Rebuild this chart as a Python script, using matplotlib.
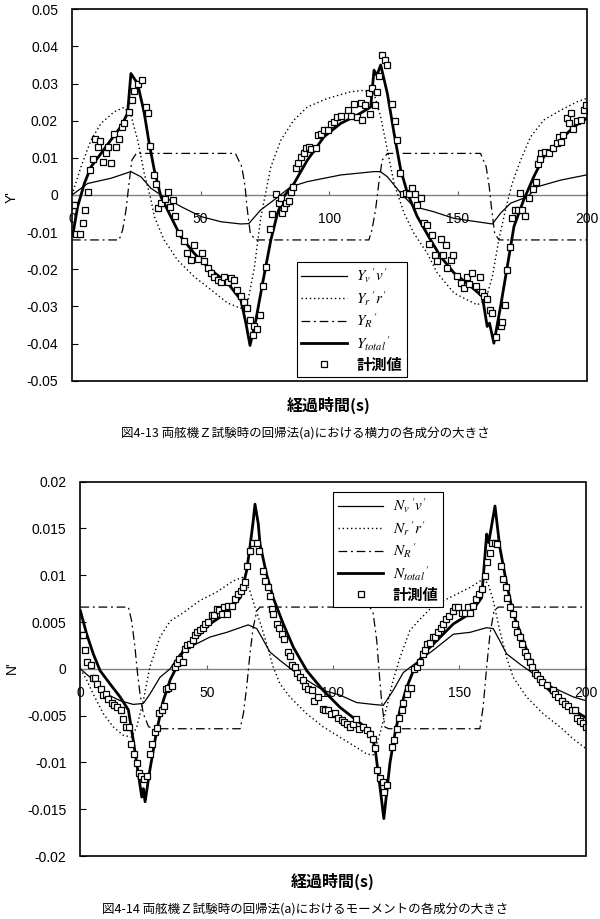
import matplotlib
matplotlib.use("Agg")
import matplotlib.pyplot as plt
from matplotlib.patches import Rectangle

plt.rcParams['font.family'] = ['Liberation Sans', 'Noto Sans CJK JP']
plt.rcParams['mathtext.fontset'] = 'stix'

# ---------------- Top chart (Y') ----------------
yv_t = [0, 6.1, 15.1, 22.9, 26.8, 30.7, 34.6, 42.3, 50.1, 57.9, 65.6, 68.7, 73.4, 78.6, 85, 91.5, 104.5, 117.4, 119.9,
        122.6, 127.8, 132.8, 140.6, 148.5, 163.4, 166.6, 170.5, 177, 180.8, 189.9, 200]
yv_v = [0, 0.0031, 0.0045, 0.0063, 0.0049, 0.0018, 0, -0.0031, -0.0058, -0.0072, -0.0078, -0.0077, -0.004, -0.0013, 0.0022,
        0.0036, 0.0054, 0.0063, 0.0063, 0.0049, 0.0005, -0.0031, -0.0045, -0.0063, -0.0078, -0.0049, -0.0022, -0.0005,
        0.0022, 0.004, 0.0054]

yr_t = [0, 3.5, 7.4, 11.3, 16.4, 20.3, 22.9, 25.5, 28.1, 30.7, 32, 35.8, 41, 47.5, 54, 60.5, 65.6, 68.2, 70.8, 73.4,
        77.3, 81.2, 86.3, 91.5, 99.3, 108.3, 113.5, 117.4, 120, 122.6, 125.2, 129.1, 132.9, 138.1, 142, 148.5, 157.5,
        160.8, 163.4, 165.9, 168.5, 171.1, 174.4, 178.3, 183.4, 189.9, 196.4, 200]
yr_v = [0, 0.0076, 0.0148, 0.0193, 0.0224, 0.0236, 0.0215, 0.0148, 0.0058, -0.0013, -0.0058, -0.0121, -0.0175, -0.022,
        -0.0255, -0.0291, -0.0305, -0.0291, -0.020, -0.006, 0.0076, 0.0148, 0.0202, 0.0237, 0.026, 0.0278,
        0.0282, 0.0273, 0.021, 0.0121, 0.0031, -0.0049, -0.0103, -0.0157, -0.021, -0.0264, -0.0296, -0.0282, -0.022,
        -0.0121, -0.004, 0.0031, 0.0094, 0.0157, 0.0202, 0.0228, 0.0251, 0.026]

yR_t = [0, 18.3, 19.7, 21, 22.3, 23.3, 25, 63.5, 66, 67.3, 68, 69.3, 71.3, 115.4, 116.6, 118, 119.4, 120.6, 122.6,
        158.8, 161, 162.2, 163, 164.3, 166, 200]
yR_v = [-0.0121, -0.0121, -0.0094, -0.004, 0.004, 0.0094, 0.0112, 0.0112, 0.0076, 0.0022, -0.0031, -0.0103, -0.0121,
        -0.0121, -0.0094, -0.004, 0.004, 0.0094, 0.0112, 0.0112, 0.0076, 0.0022, -0.0031, -0.0103, -0.0121, -0.0121]

ytot_t = [0.3, 2.2, 4.8, 7.4, 11.3, 15.1, 19, 21.6, 22.9, 25.5, 28.1, 30, 32, 34.6, 38.4, 42.3, 47.5, 54, 60.5, 65.6,
          67.6, 69.2, 71.5, 74.1, 77.3, 79.9, 82.4, 86.3, 91.5, 98, 104.5, 110.9, 116.1, 117.4, 118.5, 120, 122.6,
          125.2, 127.8, 130.4, 134.2, 139.4, 143.3, 148.5, 155, 159.5, 161.4, 162.3, 164, 166.6, 169.2, 171.8, 175.6,
          179.5, 183.4, 189.9, 195.1, 200]
ytot_v = [-0.0108, -0.0031, 0.0031, 0.0076, 0.0112, 0.0148, 0.0184, 0.022, 0.0327, 0.030, 0.022, 0.0139, 0.0067,
          -0.0005, -0.0058, -0.0112, -0.0157, -0.0202, -0.0237, -0.0282, -0.0345, -0.0405, -0.0336, -0.0237, -0.0121,
          -0.0049, -0.0004, 0.0031, 0.0094, 0.0157, 0.0193, 0.0215, 0.0237, 0.0336, 0.0322, 0.035, 0.0273, 0.0166,
          0.0067, 0.0005, -0.0058, -0.0121, -0.0166, -0.021, -0.0246, -0.0273, -0.0354, -0.0345, -0.0399, -0.030,
          -0.0193, -0.0085, -0.0013, 0.0049, 0.0103, 0.0148, 0.0184, 0.0206]

ym_t = [0.3, 0.9, 1.5, 3.2, 4.1, 5.0, 6.1, 7.1, 8.0, 9.1, 10.0, 11.0, 11.9, 13.2, 13.9, 15.1, 16.2, 17.1, 18.4, 19.3,
        20.3, 22.3, 23.2, 24.2, 25.8, 27.1, 28.7, 29.6, 30.4, 31.7, 32.6, 33.5, 34.6, 36.1, 37.2, 38.2, 39.1, 40.0,
        41.7, 43.4, 44.7, 46.2, 47.3, 49.1, 50.4, 51.4, 52.7, 54.0, 55.3, 56.6, 57.9, 59.1, 60.5, 61.7, 63.0, 64.1,
        65.6, 66.7, 68.0, 69.2, 70.2, 70.8, 72.1, 73.1, 74.4, 75.3, 77.0, 77.9, 79.2, 80.5, 81.2, 81.8, 82.4, 83.1,
        84.4, 85.0, 86.1, 87.0, 87.9, 88.9, 90.0, 90.9, 92.2, 93.1, 94.8, 95.7, 96.7, 98.0, 99.6, 100.6, 101.9,
        102.9, 104.5, 107.1, 108.3, 109.6, 110.9, 112.2, 112.9, 113.8, 115.5, 115.8, 116.8, 117.8, 118.7, 119.3,
        120.6, 121.6, 122.6, 124.5, 125.4, 126.5, 127.5, 128.8, 129.7, 131.0, 132.3, 133.2, 134.2, 135.5, 136.8,
        138.1, 138.8, 140.1, 141.0, 142.0, 143.3, 144.3, 145.2, 145.9, 147.2, 148.1, 149.5, 151.1, 152.4, 153.7,
        154.3, 155.6, 156.9, 158.6, 159.5, 160.1, 161.5, 162.5, 163.1, 165.0, 166.6, 167.3, 168.2, 169.0, 170.2,
        171.1, 172.4, 173.3, 174.1, 175.0, 176.0, 177.6, 179.3, 180.2, 181.1, 181.9, 182.4, 183.7, 185.4, 187.1,
        188.6, 189.2, 189.9, 190.9, 192.5, 193.1, 194.0, 194.8, 196.4, 197.9, 199.0, 199.9]
ym_v = [-0.0027, -0.0027, -0.0105, -0.0105, -0.0076, -0.004, 0.0009, 0.0067, 0.0096, 0.0152, 0.0128, 0.0146, 0.009,
        0.0114, 0.013, 0.0087, 0.0164, 0.0128, 0.015, 0.0184, 0.0193, 0.0224, 0.0255, 0.028, 0.030, 0.0309, 0.0237,
        0.0221, 0.0132, 0.0054, 0.003, -0.0036, -0.0021, -0.0012, 0.0009, -0.0031, -0.0013, -0.0056, -0.0103,
        -0.0124, -0.0155, -0.0175, -0.0134, -0.0173, -0.0155, -0.0179, -0.0197, -0.021, -0.022, -0.0228, -0.0233,
        -0.022, -0.0233, -0.0224, -0.0228, -0.0255, -0.0273, -0.0287, -0.0305, -0.0336, -0.0376, -0.0354, -0.0361,
        -0.0323, -0.0245, -0.0193, -0.0092, -0.0051, 0.0003, -0.0022, -0.0009, -0.0049, -0.0036, -0.0022, -0.0015,
        0.0009, 0.0022, 0.0072, 0.0087, 0.0101, 0.0112, 0.0126, 0.013, 0.0124, 0.0126, 0.0161, 0.0163, 0.0175,
        0.0175, 0.0191, 0.0197, 0.0209, 0.0212, 0.0228, 0.0212, 0.0246, 0.021, 0.0248, 0.0203, 0.0242, 0.0275,
        0.0218, 0.0287, 0.0242, 0.0278, 0.032, 0.0376, 0.0363, 0.035, 0.0245, 0.020, 0.0148, 0.006, 0.0003, 0.0006,
        0.0003, 0.0018, 0.0003, -0.0027, -0.0009, -0.0076, -0.0081, -0.0132, -0.0108, -0.0161, -0.0179, -0.0119,
        -0.0161, -0.0134, -0.0197, -0.0175, -0.0161, -0.0218, -0.0236, -0.0251, -0.0221, -0.0239, -0.021, -0.0246,
        -0.0221, -0.026, -0.0273, -0.028, -0.0309, -0.0318, -0.0381, -0.0354, -0.0341, -0.0296, -0.0203, -0.0139,
        -0.0063, -0.004, -0.004, 0.0006, -0.004, -0.0056, -0.0009, 0.0015, 0.0036, 0.0083, 0.0096, 0.0112, 0.0116,
        0.0112, 0.0126, 0.0139, 0.0155, 0.0143, 0.0161, 0.0206, 0.0193, 0.022, 0.0179, 0.020, 0.0202, 0.0228,
        0.0242]

# ---------------- Bottom chart (N') ----------------
nv_t = [0, 5.1, 10.4, 15.7, 20.9, 24.9, 27.5, 31.5, 35.5, 39.4, 44.7, 51.3, 57.9, 63.2, 66.4, 69.8, 71.1, 75, 79,
        84.3, 89.6, 96.1, 102.7, 109.3, 115.9, 119.9, 123.8, 127.8, 133.1, 139.7, 147.6, 154.2, 160.8, 163.4, 166,
        168.7, 174, 179.2, 187.1, 195.1, 200]
nv_v = [0, -0.0012, -0.0027, -0.0034, -0.0038, -0.0037, -0.0027, -0.0009, 0, 0.0016, 0.0025, 0.0034, 0.0039, 0.0044,
        0.0047, 0.0043, 0.0037, 0.0018, 0.0009, -0.0002, -0.0012, -0.0023, -0.0028, -0.0036, -0.0038, -0.0039,
        -0.0023, -0.0004, 0.0007, 0.002, 0.0037, 0.0039, 0.0044, 0.0043, 0.003, 0.0016, 0.0005, -0.0005, -0.002,
        -0.003, -0.0034]

nr_t = [0, 2.5, 5.1, 9.1, 13, 17, 20.3, 22.3, 24.9, 27.5, 31.5, 35.5, 40.7, 47.3, 53.9, 60.5, 64.5, 67.1, 69.1, 71.1,
        73.7, 76.3, 79, 82.9, 89.6, 96.1, 102.7, 109.3, 113.3, 115.9, 118.6, 121.2, 123.8, 126.5, 130.4, 134.4,
        138.4, 142.3, 147.6, 154.2, 159.4, 161.4, 163.4, 166, 168.7, 171.3, 176.6, 183.2, 189.8, 195.1, 200]
nr_v = [0, -0.0012, -0.0027, -0.0048, -0.0062, -0.0071, -0.0073, -0.0062, -0.0034, 0.0002, 0.0034, 0.0051, 0.006,
        0.0073, 0.0082, 0.0094, 0.0098, 0.0083, 0.0066, 0.0050, 0.0027, 0.0002, -0.0016, -0.003, -0.0048, -0.0062,
        -0.0073, -0.0084, -0.0091, -0.0092, -0.0069, -0.0041, -0.0012, 0.0012, 0.0041, 0.0053, 0.0064, 0.0071,
        0.0078, 0.0087, 0.0096, 0.0091, 0.0073, 0.0041, 0.0012, -0.0009, -0.003, -0.0048, -0.0062, -0.0075, -0.0085]

nR_t = [0, 19, 20.3, 21.6, 22.5, 23.6, 24.9, 27, 30, 63.2, 64.5, 65.8, 67.1, 68.4, 69.8, 71.1, 114.6, 115.9, 117.3,
        118.3, 119.2, 120.5, 122, 158.1, 159.4, 160.8, 162.1, 163.7, 165.4, 200]
nR_v = [0.0066, 0.0066, 0.0051, 0.0023, -0.0002, -0.0027, -0.0048, -0.0062, -0.0064, -0.0064, -0.0048, -0.002,
        0.0016, 0.0044, 0.0062, 0.0066, 0.0066, 0.0059, 0.003, -0.0005, -0.0034, -0.0062, -0.0064, -0.0064, -0.0041,
        0.0002, 0.0037, 0.0062, 0.0066, 0.0066]

ntot_t = [0, 2.5, 5.1, 7.8, 11.7, 15.7, 19, 20.9, 22.9, 24.3, 24.9, 25.6, 27.5, 30.2, 32.8, 35.5, 38.1, 40.7, 44.7,
          51.3, 57.9, 63.2, 65.8, 67.1, 68.4, 69.1, 70.4, 71.1, 73.7, 76.3, 80.3, 84.3, 89.6, 96.1, 102.7, 109.3,
          114.6, 116.6, 117.9, 119.2, 120.1, 121.2, 122.5, 124.5, 126.5, 129.1, 131.8, 135.7, 141, 147.6, 154.2,
          158.8, 160.8, 161.6, 164.1, 166, 168.7, 171.3, 175.3, 179.2, 184.5, 189.8, 195.1, 200]
ntot_v = [0.0062, 0.0037, 0.0016, -0.0002, -0.0016, -0.003, -0.0044, -0.0076, -0.0112, -0.0137, -0.0128, -0.0142,
          -0.0108, -0.0066, -0.0034, -0.0012, 0.0002, 0.002, 0.003, 0.0048, 0.006, 0.0076, 0.0105, 0.013, 0.0158,
          0.0176, 0.0155, 0.0133, 0.0101, 0.0076, 0.0048, 0.0023, -0.0002, -0.0023, -0.0041, -0.0055, -0.0066,
          -0.0084, -0.0112, -0.014, -0.016, -0.0133, -0.0101, -0.0069, -0.0044, -0.002, -0.0002, 0.0016, 0.003,
          0.0048, 0.0059, 0.0076, 0.0144, 0.0135, 0.0174, 0.013, 0.0091, 0.0059, 0.003, 0.0002, -0.002, -0.0034,
          -0.0044, -0.0052]

nm_t = [0.1, 0.9, 1.8, 2.7, 4.1, 4.9, 5.9, 6.7, 8.0, 9.1, 10.1, 11.0, 12.4, 13.3, 14.6, 16.1, 17.0, 18.0, 19.1, 20.2,
        21.2, 22.3, 23.3, 23.9, 25.2, 26.2, 27.5, 28.2, 29.5, 30.2, 31.2, 32.2, 33.1, 33.9, 34.8, 36.1, 37.4, 38.3,
        39.1, 40.5, 41.4, 42.3, 43.4, 44.4, 45.4, 46.3, 47.3, 48.4, 49.4, 50.6, 52.0, 52.9, 53.9, 55.0, 55.9, 56.8,
        57.9, 58.5, 59.9, 61.2, 62.5, 63.4, 64.2, 65.1, 66.0, 67.1, 68.4, 70.0, 70.8, 72.1, 73.1, 74.4, 75.0, 75.7,
        76.3, 77.7, 78.7, 79.7, 80.6, 82.3, 83.0, 83.6, 84.9, 85.8, 86.9, 88.0, 88.9, 90.2, 91.5, 92.4, 94.1, 95.9,
        96.8, 98.1, 99.0, 100.8, 102.1, 103.4, 104.3, 105.6, 106.7, 108.0, 109.1, 110.4, 111.7, 113.5, 114.6, 115.7,
        116.6, 117.3, 118.6, 119.6, 120.1, 121.2, 123.2, 124.1, 125.2, 126.2, 127.1, 127.8, 129.1, 129.8, 130.7,
        132.0, 133.1, 134.4, 135.5, 136.4, 137.3, 138.4, 139.7, 140.3, 141.6, 142.6, 143.6, 144.7, 146.0, 147.3,
        148.2, 149.5, 150.9, 152.2, 153.5, 154.2, 155.5, 156.6, 157.9, 158.8, 160.1, 161.0, 162.1, 162.8, 164.1,
        165.0, 166.3, 167.4, 168.4, 169.0, 170.0, 171.3, 172.0, 172.9, 174.0, 174.6, 175.9, 176.6, 177.9, 178.6,
        179.9, 180.8, 181.9, 182.9, 184.5, 186.9, 187.8, 189.1, 190.5, 191.8, 193.1, 194.4, 195.7, 196.6, 197.7,
        199.0, 200.0]
nm_v = [0.0036, 0.0036, 0.002, 0.0007, 0.0004, -0.001, -0.001, -0.0016, -0.0022, -0.0028, -0.0027, -0.0032, -0.0036,
        -0.0039, -0.0041, -0.0044, -0.0054, -0.0062, -0.0062, -0.008, -0.0091, -0.0101, -0.0111, -0.0115, -0.0118,
        -0.0114, -0.0091, -0.008, -0.0068, -0.0063, -0.0047, -0.0044, -0.004, -0.0022, -0.002, -0.0018, 0.0002,
        0.0006, 0.001, 0.0007, 0.0021, 0.0025, 0.0027, 0.0031, 0.0036, 0.0039, 0.0042, 0.0044, 0.0048, 0.005, 0.0058,
        0.0058, 0.0064, 0.0063, 0.0059, 0.0066, 0.0059, 0.0067, 0.0067, 0.0075, 0.008, 0.0083, 0.0088, 0.0093, 0.011,
        0.0126, 0.0135, 0.0135, 0.0126, 0.0105, 0.0094, 0.0087, 0.0078, 0.0064, 0.0059, 0.0048, 0.0044, 0.0037,
        0.0032, 0.0018, 0.0014, 0.0004, 0.0002, -0.0004, -0.0009, -0.0012, -0.0018, -0.0021, -0.0023, -0.0034,
        -0.003, -0.0043, -0.0044, -0.0044, -0.0048, -0.0047, -0.0052, -0.0055, -0.0057, -0.0059, -0.0062, -0.0059,
        -0.0054, -0.0064, -0.0062, -0.0065, -0.007, -0.0075, -0.0085, -0.0108, -0.0117, -0.0121, -0.0132, -0.0124,
        -0.0084, -0.0076, -0.0064, -0.0052, -0.0044, -0.0036, -0.0027, -0.002, -0.002, 0, 0.0002, 0.0007, 0.0016,
        0.002, 0.0027, 0.0028, 0.0034, 0.0034, 0.0039, 0.0044, 0.0048, 0.0053, 0.0057, 0.0062, 0.0066, 0.0066, 0.006,
        0.006, 0.0066, 0.006, 0.0067, 0.0075, 0.008, 0.0085, 0.0099, 0.0114, 0.0124, 0.0135, 0.0135, 0.0133, 0.011,
        0.0096, 0.0088, 0.0076, 0.0066, 0.0059, 0.0048, 0.0039, 0.0034, 0.0027, 0.0018, 0.0014, 0.0007, 0.0002,
        -0.0004, -0.0007, -0.0011, -0.0014, -0.0017, -0.0023, -0.0027, -0.003, -0.0034, -0.0038, -0.004, -0.0044,
        -0.0044, -0.0052, -0.0056, -0.0058, -0.0062]

x_ticks = [0, 50, 100, 150, 200]
top_yticks = [0.05, 0.04, 0.03, 0.02, 0.01, 0, -0.01, -0.02, -0.03, -0.04, -0.05]
top_yticklabels = ['0.05', '0.04', '0.03', '0.02', '0.01', '0', '-0.01', '-0.02', '-0.03', '-0.04', '-0.05']
bot_yticks = [0.02, 0.015, 0.01, 0.005, 0, -0.005, -0.01, -0.015, -0.02]
bot_yticklabels = ['0.02', '0.015', '0.01', '0.005', '0', '-0.005', '-0.01', '-0.015', '-0.02']

top_labels = [r"$Y_v\,'v'$", r"$Y_r\,'r'$", r"$Y_R\,'$", r"$Y_{total}\,'$", "計測値"]
bot_labels = [r"$N_v\,'v'$", r"$N_r\,'r'$", r"$N_R\,'$", r"$N_{total}\,'$", "計測値"]

xlabel = "経過時間(s)"
cap_top = "図4-13 両舷機Ｚ試験時の回帰法(a)における横力の各成分の大きさ"
cap_bot = "図4-14 両舷機Ｚ試験時の回帰法(a)におけるモーメントの各成分の大きさ"

W, H = 600, 919
fig = plt.figure(figsize=(W / 100, H / 100), dpi=100)


def px_axes(l, t, r, b):
    return fig.add_axes([l / W, 1 - b / H, (r - l) / W, (b - t) / H])


def style(ax, ylim, yticks, yticklabels, labels, series, leg_anchor):
    (vt, vv), (rt, rv), (Rt, Rv), (tt, tv), (mt, mv) = series
    ax.plot(vt, vv, color='black', lw=0.9, label=labels[0], zorder=3)
    ax.plot(rt, rv, color='black', lw=1.0, linestyle=(0, (1, 2)), label=labels[1], zorder=3)
    ax.plot(Rt, Rv, color='black', lw=0.9, linestyle=(0, (7, 3, 1.5, 3)), label=labels[2], zorder=3)
    ax.plot(tt, tv, color='black', lw=2.0, label=labels[3], zorder=4)
    ax.plot(mt, mv, linestyle='none', marker='s', ms=5, mfc='white', mec='black', mew=0.9,
            label=labels[4], zorder=5)
    ax.set_xlim(0, 200)
    ax.set_ylim(*ylim)
    ax.set_yticks(yticks)
    ax.set_yticklabels(yticklabels)
    ax.set_xticks(x_ticks)
    ax.set_xticklabels([str(v) for v in x_ticks])
    for s in ['top', 'left', 'right']:
        ax.spines[s].set_visible(False)
    ax.spines['bottom'].set_position(('data', 0))
    ax.spines['bottom'].set_color('#808080')
    ax.spines['bottom'].set_linewidth(1.0)
    ax.add_patch(Rectangle((0, 0), 1, 1, transform=ax.transAxes, fill=False, ec='black', lw=1.2,
                           clip_on=False, zorder=6))
    ax.tick_params(axis='x', direction='in', length=3, width=0.8, color='#606060', pad=12, labelsize=10)
    ax.tick_params(axis='y', direction='in', length=4, width=0.8, pad=10, labelsize=10)
    leg = ax.legend(loc='upper left', bbox_to_anchor=leg_anchor, frameon=True, fancybox=False,
                    edgecolor='black', framealpha=1, fontsize=11, handlelength=3.0, labelspacing=0.25,
                    borderpad=0.3, handletextpad=0.6, borderaxespad=0)
    leg.get_frame().set_linewidth(0.8)
    t = leg.get_texts()[4]
    t.set_fontweight('bold')
    t.set_fontfamily(['Noto Sans CJK JP'])
    t.set_fontsize(11)
    return ax


ax1 = px_axes(72, 9.3, 586.5, 380.7)
style(ax1, (-0.05, 0.05), top_yticks, top_yticklabels, top_labels,
      [(yv_t, yv_v), (yr_t, yr_v), (yR_t, yR_v), (ytot_t, ytot_v), (ym_t, ym_v)], (0.437, 0.32))

ax2 = px_axes(80.4, 481.7, 585.7, 856)
style(ax2, (-0.02, 0.02), bot_yticks, bot_yticklabels, bot_labels,
      [(nv_t, nv_v), (nr_t, nr_v), (nR_t, nR_v), (ntot_t, ntot_v), (nm_t, nm_v)], (0.50, 0.973))

fig.text(12 / W, 1 - 197 / H, "Y'", rotation=90, ha='center', va='center', fontsize=10)
fig.text(12 / W, 1 - 668 / H, "N'", rotation=90, ha='center', va='center', fontsize=10)

fig.text(329 / W, 1 - 405 / H, xlabel, ha='center', va='center', fontsize=11.5, fontweight='bold',
         family=['Noto Sans CJK JP'])
fig.text(333 / W, 1 - 881 / H, xlabel, ha='center', va='center', fontsize=11.5, fontweight='bold',
         family=['Noto Sans CJK JP'])
fig.text(305 / W, 1 - 433 / H, cap_top, ha='center', va='center', fontsize=9, family=['Noto Sans CJK JP'])
fig.text(305 / W, 1 - 909 / H, cap_bot, ha='center', va='center', fontsize=9, family=['Noto Sans CJK JP'])

fig.savefig('out.png', dpi=100)
